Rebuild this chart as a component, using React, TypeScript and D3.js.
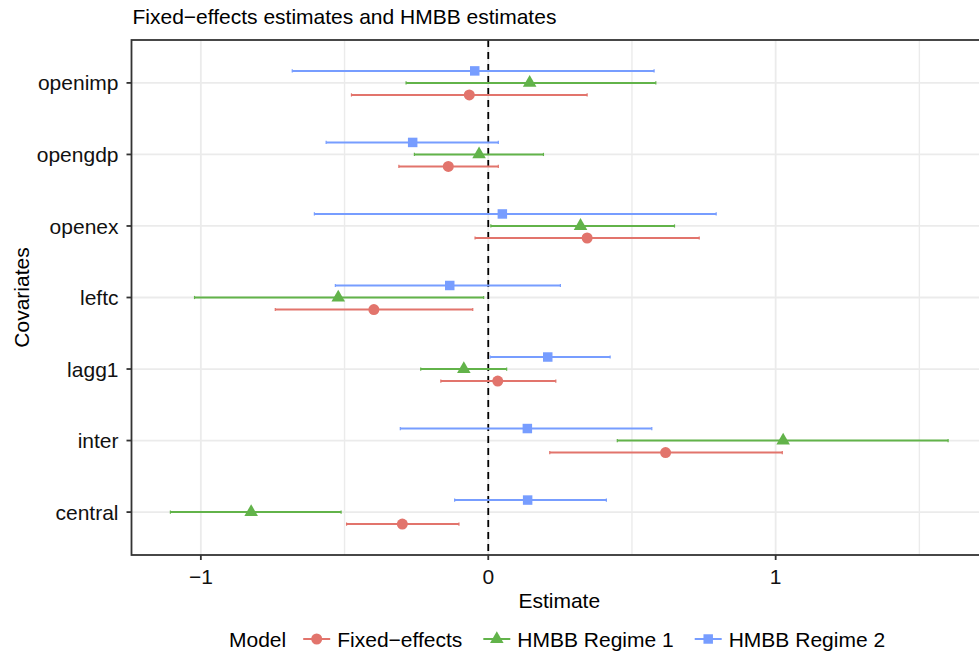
import React, { useEffect, useRef } from "react";
import * as d3 from "d3";

// covariates, top to bottom
const covariates = ["openimp", "opengdp", "openex", "leftc", "lagg1", "inter", "central"];
const models = ["Fixed\u2212effects", "HMBB Regime 1", "HMBB Regime 2"];
const modelColors = ["#E2746C", "#62B34A", "#779DFF"];

// Fixed-effects
const fixedEst = [-0.066, -0.139, 0.344, -0.398, 0.033, 0.617, -0.299];
const fixedLo = [-0.476, -0.311, -0.046, -0.741, -0.165, 0.214, -0.493];
const fixedHi = [0.344, 0.035, 0.734, -0.054, 0.235, 1.023, -0.102];
// HMBB Regime 1
const reg1Est = [0.144, -0.032, 0.321, -0.522, -0.085, 1.026, -0.825];
const reg1Lo = [-0.286, -0.257, 0.009, -1.022, -0.235, 0.449, -1.106];
const reg1Hi = [0.583, 0.192, 0.648, -0.016, 0.064, 1.6, -0.512];
// HMBB Regime 2
const reg2Est = [-0.047, -0.263, 0.049, -0.134, 0.207, 0.136, 0.137];
const reg2Lo = [-0.682, -0.564, -0.605, -0.532, 0.007, -0.306, -0.117];
const reg2Hi = [0.577, 0.035, 0.793, 0.251, 0.424, 0.569, 0.411];

const xTicks = [-1, 0, 1];
const xGrid = [-1, -0.5, 0, 0.5, 1, 1.5];

const FONT = "'Liberation Sans', Arial, Helvetica, sans-serif";
const FS = 21;

export default function App() {
  const svgRef = useRef<SVGSVGElement>(null);

  useEffect(() => {
    document.body.style.margin = "0";
    const W = 979, H = 654;
    const margin = { top: 40, left: 131.5, bottom: 99 };
    const panelRight = 987; // panel runs off the right edge in the original

    const svgEl = d3.select(svgRef.current);
    svgEl.selectAll("*").remove();
    const svg = svgEl.attr("width", W).attr("height", H);

    const series = [
      { name: models[0], color: modelColors[0], est: fixedEst, lo: fixedLo, hi: fixedHi, shape: d3.symbolCircle, size: 95 },
      { name: models[1], color: modelColors[1], est: reg1Est, lo: reg1Lo, hi: reg1Hi, shape: d3.symbolTriangle, size: 80 },
      { name: models[2], color: modelColors[2], est: reg2Est, lo: reg2Lo, hi: reg2Hi, shape: d3.symbolSquare, size: 90 },
    ];

    // x scale with 5% expansion like ggplot
    const xmin = d3.min(series, s => d3.min(s.lo)) as number;
    const xmax = d3.max(series, s => d3.max(s.hi)) as number;
    const pad = (xmax - xmin) * 0.05;
    const x = d3.scaleLinear().domain([xmin - pad, xmax + pad]).range([margin.left, panelRight]);

    const y = d3.scalePoint<string>()
      .domain(covariates)
      .range([margin.top, H - margin.bottom])
      .padding(0.6);

    // dodge: regime 2 on top, fixed-effects at the bottom
    const dodge = d3.scalePoint<string>()
      .domain([models[2], models[1], models[0]])
      .range([-y.step() * 0.168, y.step() * 0.168]);

    const panelBottom = H - margin.bottom;

    // grid
    const grid = svg.append("g");
    grid.selectAll(".vgrid")
      .data(xGrid)
      .enter()
      .append("line")
      .attr("x1", d => x(d)).attr("x2", d => x(d))
      .attr("y1", margin.top).attr("y2", panelBottom)
      .attr("stroke", "#EBEBEB")
      .attr("stroke-width", d => (Number.isInteger(d) ? 1.8 : 1.4));
    grid.selectAll(".hgrid")
      .data(covariates)
      .enter()
      .append("line")
      .attr("x1", margin.left).attr("x2", panelRight)
      .attr("y1", d => y(d)!).attr("y2", d => y(d)!)
      .attr("stroke", "#EBEBEB")
      .attr("stroke-width", 1.8);

    // zero line
    svg.append("line")
      .attr("x1", x(0)).attr("x2", x(0))
      .attr("y1", margin.top).attr("y2", panelBottom)
      .attr("stroke", "#000")
      .attr("stroke-width", 1.8)
      .attr("stroke-dasharray", "7,5");

    // error bars + points
    series.forEach(s => {
      const g = svg.append("g");
      covariates.forEach((c, i) => {
        const yy = y(c)! + dodge(s.name)!;
        g.append("line")
          .attr("x1", x(s.lo[i])).attr("x2", x(s.hi[i]))
          .attr("y1", yy).attr("y2", yy)
          .attr("stroke", s.color)
          .attr("stroke-width", 2);
        [s.lo[i], s.hi[i]].forEach(v => {
          g.append("line")
            .attr("x1", x(v)).attr("x2", x(v))
            .attr("y1", yy - 1.6).attr("y2", yy + 1.6)
            .attr("stroke", s.color)
            .attr("stroke-width", 1.2);
        });
        g.append("path")
          .attr("d", d3.symbol().type(s.shape).size(s.size)())
          .attr("transform", `translate(${x(s.est[i])},${yy})`)
          .attr("fill", s.color);
      });
    });

    // panel border
    svg.append("rect")
      .attr("x", margin.left).attr("y", margin.top)
      .attr("width", panelRight - margin.left)
      .attr("height", panelBottom - margin.top)
      .attr("fill", "none")
      .attr("stroke", "#333")
      .attr("stroke-width", 1.8);

    // x axis ticks & labels
    const xa = svg.append("g");
    xTicks.forEach(t => {
      xa.append("line")
        .attr("x1", x(t)).attr("x2", x(t))
        .attr("y1", panelBottom).attr("y2", panelBottom + 5)
        .attr("stroke", "#333").attr("stroke-width", 1.8);
      xa.append("text")
        .attr("x", x(t)).attr("y", panelBottom + 29)
        .attr("text-anchor", "middle")
        .attr("font-family", FONT).attr("font-size", FS).attr("fill", "#111")
        .text(d3.format("d")(t));
    });

    // y axis ticks & labels
    const ya = svg.append("g");
    covariates.forEach(c => {
      ya.append("line")
        .attr("x1", margin.left - 5).attr("x2", margin.left)
        .attr("y1", y(c)!).attr("y2", y(c)!)
        .attr("stroke", "#333").attr("stroke-width", 1.8);
      ya.append("text")
        .attr("x", margin.left - 13).attr("y", y(c)!)
        .attr("dy", "0.36em")
        .attr("text-anchor", "end")
        .attr("font-family", FONT).attr("font-size", FS).attr("fill", "#111")
        .text(c);
    });

    // axis titles
    svg.append("text")
      .attr("x", (margin.left + panelRight) / 2).attr("y", 608)
      .attr("text-anchor", "middle")
      .attr("font-family", FONT).attr("font-size", FS).attr("fill", "#000")
      .text("Estimate");
    svg.append("text")
      .attr("transform", `translate(29,${(margin.top + panelBottom) / 2}) rotate(-90)`)
      .attr("text-anchor", "middle")
      .attr("font-family", FONT).attr("font-size", FS).attr("fill", "#000")
      .text("Covariates");

    // title
    svg.append("text")
      .attr("x", margin.left + 1).attr("y", 24)
      .attr("font-family", FONT).attr("font-size", FS).attr("fill", "#000")
      .text("Fixed\u2212effects estimates and HMBB estimates");

    // legend
    const leg = svg.append("g").attr("transform", "translate(0,639)");
    let cx = 229;
    const title = leg.append("text")
      .attr("x", cx).attr("dy", "0.36em")
      .attr("font-family", FONT).attr("font-size", FS).attr("fill", "#000")
      .text("Model");
    cx += (title.node() as SVGTextElement).getComputedTextLength() + 17;
    series.forEach(s => {
      leg.append("line")
        .attr("x1", cx).attr("x2", cx + 27)
        .attr("stroke", s.color).attr("stroke-width", 2);
      leg.append("path")
        .attr("d", d3.symbol().type(s.shape).size(s.size)())
        .attr("transform", `translate(${cx + 13.5},0)`)
        .attr("fill", s.color);
      cx += 34;
      const t = leg.append("text")
        .attr("x", cx).attr("dy", "0.36em")
        .attr("font-family", FONT).attr("font-size", FS).attr("fill", "#000")
        .text(s.name);
      cx += (t.node() as SVGTextElement).getComputedTextLength() + 21;
    });
  }, []);

  return (
    <div style={{ width: 979, height: 654, overflow: "hidden" }}>
      <svg ref={svgRef} style={{ display: "block" }}></svg>
    </div>
  );
}
